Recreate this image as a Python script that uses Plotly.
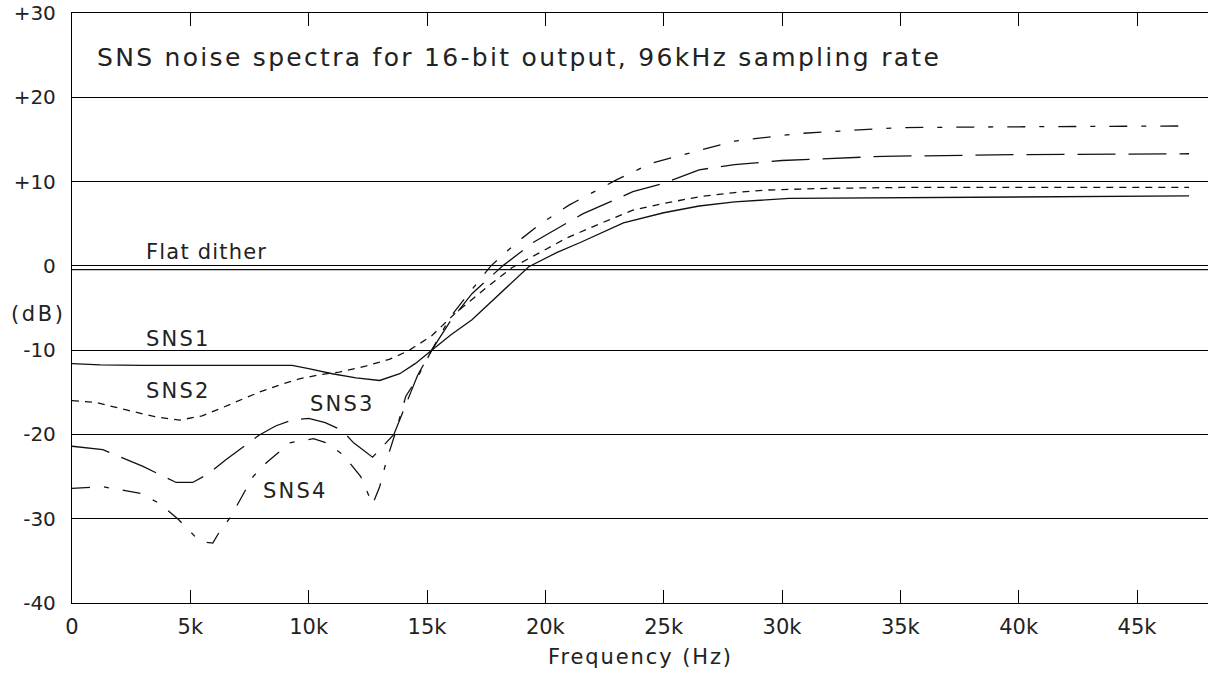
import plotly.graph_objects as go

# ---------------- data (frequency in kHz, level in dB) ----------------
freq_sns1 = [0, 1.2, 3, 5, 7, 9.3, 10, 11, 12, 13, 13.85, 14.5, 15.2, 16, 16.9, 18, 19.3,
             20.5, 21.5, 23.3, 25, 26.5, 28, 30.3, 35, 38.7, 42, 47.2]
sns1 = [-11.6, -11.75, -11.8, -11.8, -11.8, -11.8, -12.2, -12.8, -13.3, -13.6, -12.8, -11.6, -10.0,
        -8.2, -6.4, -3.5, -0.1, 1.6, 2.8, 5.1, 6.3, 7.1, 7.6, 8.0, 8.1, 8.2, 8.2, 8.3]

freq_sns2 = [0, 1, 2.3, 3.5, 4.55, 5.5, 6.2, 7.1, 7.9, 8.8, 9.6, 10.5, 11.3, 12.4, 13.4, 14.2,
             15.2, 16.2, 17.5, 18.6, 19.4, 20.9, 22.3, 23.7, 25, 26.5, 28, 29.4, 32, 35, 40, 47.2]
sns2 = [-16.0, -16.2, -17.1, -17.9, -18.3, -17.8, -17.0, -15.9, -15.0, -14.1, -13.4, -12.9, -12.6,
        -11.9, -11.1, -10.1, -8.3, -5.6, -2.6, -0.2, 1.0, 3.3, 5.0, 6.6, 7.4, 8.2, 8.7, 9.0, 9.2,
        9.3, 9.3, 9.3]

freq_sns3 = [0, 1.3, 3.0, 4.4, 5.1, 5.8, 6.5, 7.2, 7.9, 8.6, 9.3, 10.0, 10.7, 11.4, 11.9, 12.7,
             13.1, 13.6, 14.1, 14.6, 15.2, 16.0, 16.9, 18.2, 19.5, 20.9, 21.6, 23.7, 25, 26.5, 28,
             30, 34.3, 40, 47.2]
sns3 = [-21.4, -21.8, -23.8, -25.7, -25.7, -24.6, -23.0, -21.5, -20.1, -19.0, -18.3, -18.1, -18.6,
        -19.5, -21.0, -22.7, -21.5, -20.0, -16.5, -13.0, -10.0, -6.5, -3.3, 0.0, 2.8, 5.0, 6.2,
        8.8, 9.8, 11.4, 12.0, 12.5, 13.0, 13.2, 13.3]

freq_sns4 = [0, 1.3, 2.9, 3.7, 4.5, 5.4, 5.95, 6.2, 6.7, 7.1, 7.65, 8.2, 9.2, 10.2, 10.75, 11.45,
             12.2, 12.7, 13.0, 13.3, 13.7, 14.1, 14.55, 15.2, 16.0, 16.9, 17.7, 18.8, 19.8, 21.0,
             23.0, 24.5, 26.5, 28, 30.7, 34.9, 40, 47.2]
sns4 = [-26.4, -26.2, -27.0, -28.2, -30.1, -32.7, -32.9, -31.7, -29.8, -27.8, -25.0, -23.4, -21.0,
        -20.5, -21.0, -22.4, -25.0, -28.3, -26.2, -23.0, -19.5, -15.5, -13.5, -10.0, -6.0, -2.8,
        0.0, 2.8, 5.0, 7.2, 10.2, 12.2, 13.7, 14.8, 15.7, 16.4, 16.5, 16.6]

freq_flat = [0, 48]
flat = [-0.45, -0.45]

x_tickvals = [0, 5, 10, 15, 20, 25, 30, 35, 40, 45]
x_ticktext = ["0", "5k", "10k", "15k", "20k", "25k", "30k", "35k", "40k", "45k"]
y_tickvals = [30, 20, 10, 0, -10, -20, -30, -40]
y_ticktext = ["+30", "+20", "+10", "0", "-10", "-20", "-30", "-40"]

title_text = "SNS noise spectra for 16-bit output, 96kHz sampling rate"
series_labels = [("Flat dither", 3.05, 1.6, 1.2), ("SNS1", 3.05, -8.7, 2.2),
                 ("SNS2", 3.05, -14.9, 2.2), ("SNS3", 9.97, -16.4, 2.2),
                 ("SNS4", 7.98, -26.7, 2.2)]

# ---------------- figure ----------------
FONT = "DejaVu Sans"
TXT = "#222222"
LC = "#111111"


def spaced(s, px):
    return '<span style="letter-spacing:%spx">%s</span>' % (px, s)


fig = go.Figure()
fig.add_trace(go.Scatter(x=freq_flat, y=flat, mode="lines",
                         line=dict(color=LC, width=1.2), hoverinfo="skip"))
fig.add_trace(go.Scatter(x=freq_sns1, y=sns1, mode="lines",
                         line=dict(color=LC, width=1.3), hoverinfo="skip"))
fig.add_trace(go.Scatter(x=freq_sns2, y=sns2, mode="lines",
                         line=dict(color=LC, width=1.3, dash="7px,6px"), hoverinfo="skip"))
fig.add_trace(go.Scatter(x=freq_sns3, y=sns3, mode="lines",
                         line=dict(color=LC, width=1.3, dash="38px,13px"), hoverinfo="skip"))
fig.add_trace(go.Scatter(x=freq_sns4, y=sns4, mode="lines",
                         line=dict(color=LC, width=1.3, dash="18px,14px,5px,14px"), hoverinfo="skip"))

annotations = [
    dict(text=spaced(title_text, 2.3), x=0.98, y=24.75, xref="x", yref="y", xanchor="left",
         yanchor="middle", showarrow=False, font=dict(family=FONT, size=25, color=TXT)),
    dict(text=spaced("(dB)", 2.6), x=0, y=-5.7, xref="paper", yref="y", xanchor="right",
         yanchor="middle", xshift=-4, showarrow=False, font=dict(family=FONT, size=21, color=TXT)),
    dict(text=spaced("Frequency (Hz)", 1.9), x=0.5, y=0, xref="paper", yref="paper",
         xanchor="center", yanchor="middle", yshift=-54, showarrow=False,
         font=dict(family=FONT, size=21, color=TXT)),
]
for txt, xx, yy, sp in series_labels:
    annotations.append(dict(text=spaced(txt, sp), x=xx, y=yy, xref="x", yref="y",
                            xanchor="left", yanchor="middle", showarrow=False,
                            font=dict(family=FONT, size=21, color=TXT)))

fig.update_layout(
    width=1208, height=684,
    margin=dict(l=72, r=0, t=13, b=81),
    paper_bgcolor="white", plot_bgcolor="white",
    showlegend=False, hovermode=False,
    annotations=annotations,
    xaxis=dict(range=[0, 48], tickvals=x_tickvals, ticktext=x_ticktext,
               ticks="inside", ticklen=13, tickwidth=1.3, tickcolor="black",
               showline=True, linecolor="black", linewidth=1.3, mirror="ticks",
               showgrid=False, zeroline=False, ticklabelstandoff=5,
               tickfont=dict(family=FONT, size=21, color=TXT)),
    yaxis=dict(range=[-40, 30], tickvals=y_tickvals, ticktext=y_ticktext,
               ticks="", showline=True, linecolor="black", linewidth=1.3,
               showgrid=True, gridcolor="black", gridwidth=1.2, zeroline=False,
               ticklabelstandoff=11, ticklabeloverflow="allow",
               tickfont=dict(family=FONT, size=20, color=TXT)),
)

fig.write_html("out.html", config={"displayModeBar": False},
               post_script="document.body.style.margin='0';")
